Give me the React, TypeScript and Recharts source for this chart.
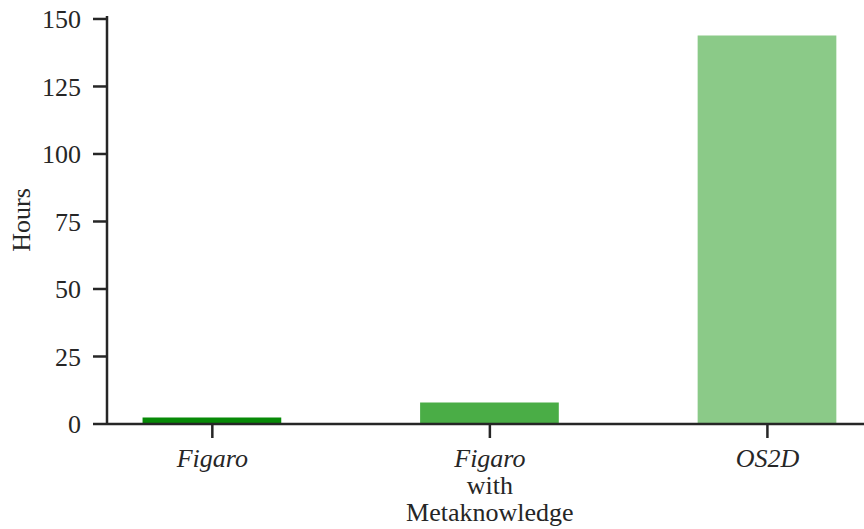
import { BarChart, Bar, XAxis, YAxis, Cell } from 'recharts';

// Training time per method, in hours
const categories = ['Figaro', 'Figaro with Metaknowledge', 'OS2D'];
const hours = [2.4, 8.0, 143.9];
const barColors = ['#078a07', '#4aad46', '#8bca88'];

// Tick labels, one entry per line; the method name (first line) is set in italics
const xTickLines = [['Figaro'], ['Figaro', 'with', 'Metaknowledge'], ['OS2D']];
const xPositions = [0, 1, 2];
const yTicks = [0, 25, 50, 75, 100, 125, 150];

const data = categories.map((name, i) => ({ pos: xPositions[i], name, hours: hours[i] }));

const FONT = '"Liberation Serif", "Times New Roman", serif';
const INK = '#262626';

function CategoryTick(props: any) {
  const { x, y, payload } = props;
  const lines = xTickLines[payload.value] ?? [];
  return (
    <g transform={`translate(${x},${y})`}>
      {lines.map((line, i) => (
        <text
          key={i}
          x={0}
          y={29 + i * 27}
          textAnchor="middle"
          fill={INK}
          fontFamily={FONT}
          fontSize={26}
          fontStyle={i === 0 ? 'italic' : 'normal'}
        >
          {line}
        </text>
      ))}
    </g>
  );
}

export default function App() {
  return (
    <div style={{ position: 'absolute', left: 0, top: 0, width: 864, height: 529, background: '#fff' }}>
      <BarChart width={864} height={529} data={data} margin={{ top: 16, right: 0, bottom: 0, left: 0 }}>
        <XAxis
          type="number"
          dataKey="pos"
          domain={[-0.3795, 2.348]}
          ticks={xPositions}
          interval={0}
          allowDataOverflow
          height={105}
          stroke={INK}
          strokeWidth={2.5}
          axisLine={{ stroke: INK, strokeWidth: 2.5 }}
          tickLine={{ stroke: INK, strokeWidth: 2.5 }}
          tickSize={14}
          tickMargin={0}
          tick={<CategoryTick />}
        />
        <YAxis
          type="number"
          domain={[0, 151.1]}
          ticks={yTicks}
          interval={0}
          allowDataOverflow
          width={107}
          stroke={INK}
          strokeWidth={2.5}
          axisLine={{ stroke: INK, strokeWidth: 2.5 }}
          tickLine={{ stroke: INK, strokeWidth: 2.5 }}
          tickSize={14}
          tickMargin={12}
          tick={{ fill: INK, stroke: 'none', fontFamily: FONT, fontSize: 26 }}
        />
        <Bar dataKey="hours" barSize={138.7} isAnimationActive={false}>
          {data.map((d, i) => (
            <Cell key={d.name} fill={barColors[i]} />
          ))}
        </Bar>
      </BarChart>
      <div
        style={{
          position: 'absolute',
          left: 22,
          top: 220,
          transform: 'translate(-50%, -50%) rotate(-90deg)',
          fontFamily: FONT,
          fontSize: 26,
          color: INK,
          whiteSpace: 'nowrap',
          lineHeight: 1,
        }}
      >
        Hours
      </div>
    </div>
  );
}
